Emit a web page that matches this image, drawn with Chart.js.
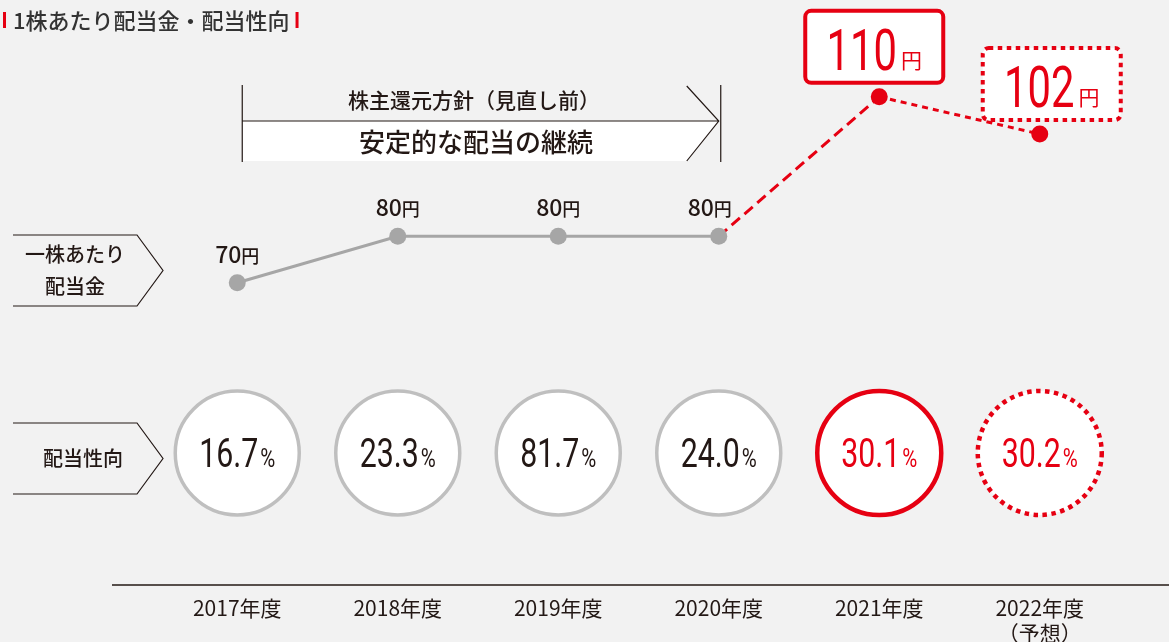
<!DOCTYPE html>
<html lang="ja">
<head>
<meta charset="utf-8">
<script src="https://cdn.jsdelivr.net/npm/chart.js@4.4.1/dist/chart.umd.min.js"></script>
<style>
    html, body { margin: 0; padding: 0; background: #f2f2f2; }
    #wrap { position: relative; width: 1169px; height: 642px; }
</style>
</head>
<body>
<div id="wrap"><canvas id="dividend-chart"></canvas></div>
<script>
// --- DATA ---
const years = ['2017年度', '2018年度', '2019年度', '2020年度', '2021年度', ['2022年度', '（予想）']];
const dividends = [70, 80, 80, 80, 110, 102];       // 一株あたり配当金（円）
const payoutRatios = [16.7, 23.3, 81.7, 24.0, 30.1, 30.2]; // 配当性向（%）
const resultFrom = 4;   // 2021年度以降は赤で強調
const forecastIdx = 5;  // 2022年度は予想

const RED = '#e60012';
const GRAY = '#a6a6a6';
const RING = '#bfbfbf';
const INK = '#231815';
const JP = '"Noto Sans CJK JP", "Noto Sans", sans-serif';
const NUM = 'Roboto, "Noto Sans", sans-serif';

const CIRCLE_Y = 453;
const CIRCLE_R = 62;

// 数字＋単位を中央揃えで描く（sx / usx は横方向の縮み）
function drawValue(ctx, num, unit, cx, baseline, numFont, unitFont, color, sx = 1, gap = 2, unitLift = 0, usx = 1) {
    ctx.save();
    ctx.fillStyle = color;
    ctx.textAlign = 'left';
    ctx.textBaseline = 'alphabetic';
    ctx.font = numFont;
    const wn = ctx.measureText(num).width * sx;
    ctx.font = unitFont;
    const wu = ctx.measureText(unit).width * usx;
    const x = cx - (wn + gap + wu) / 2;
    ctx.font = numFont;
    ctx.save();
    ctx.translate(x, baseline);
    ctx.scale(sx, 1);
    ctx.fillText(num, 0, 0);
    ctx.restore();
    ctx.font = unitFont;
    ctx.save();
    ctx.translate(x + wn + gap, baseline - unitLift);
    ctx.scale(usx, 1);
    ctx.fillText(unit, 0, 0);
    ctx.restore();
    ctx.restore();
}

function roundRect(ctx, x, y, w, h, r) {
    ctx.beginPath();
    ctx.moveTo(x + r, y);
    ctx.arcTo(x + w, y, x + w, y + h, r);
    ctx.arcTo(x + w, y + h, x, y + h, r);
    ctx.arcTo(x, y + h, x, y, r);
    ctx.arcTo(x, y, x + w, y, r);
    ctx.closePath();
}

// --- 背景の装飾（タイトル・方針矢印・左の見出し・軸線・配当性向の円） ---
const decorPlugin = {
    id: 'decor',
    beforeDatasetsDraw(chart) {
        const { ctx, chartArea, scales: { x } } = chart;
        ctx.save();

        // タイトル
        ctx.font = `500 22px ${JP}`;
        ctx.fillStyle = '#333';
        ctx.textBaseline = 'middle';
        ctx.textAlign = 'left';
        const title = '1株あたり配当金・配当性向';
        ctx.fillText(title, 13, 21);
        const tw = ctx.measureText(title).width;
        ctx.fillStyle = RED;
        ctx.fillRect(3, 12, 3, 16);
        ctx.fillRect(13 + tw + 6, 12, 3, 16);

        // 株主還元方針の矢印
        const bx0 = x.getPixelForValue(0) + 5;
        const bx1 = x.getPixelForValue(3) + 2;
        ctx.fillStyle = '#ffffff';
        ctx.beginPath();
        ctx.moveTo(bx0, 121);
        ctx.lineTo(bx1 - 2, 121);
        ctx.lineTo(bx1 - 34, 161);
        ctx.lineTo(bx0, 161);
        ctx.closePath();
        ctx.fill();
        ctx.strokeStyle = INK;
        ctx.lineWidth = 1.2;
        ctx.beginPath();
        ctx.moveTo(bx0, 85); ctx.lineTo(bx0, 162);
        ctx.moveTo(bx1, 85); ctx.lineTo(bx1, 162);
        ctx.moveTo(bx0, 121); ctx.lineTo(bx1 - 2, 121);
        ctx.moveTo(bx1 - 34, 86); ctx.lineTo(bx1 - 2, 121); ctx.lineTo(bx1 - 34, 161);
        ctx.stroke();
        ctx.fillStyle = INK;
        ctx.textAlign = 'center';
        ctx.font = `500 21px ${JP}`;
        ctx.fillText('株主還元方針（見直し前）', 474, 100);
        ctx.font = `500 26px ${JP}`;
        ctx.fillText('安定的な配当の継続', 476, 142);

        // 左の見出し（矢羽根）
        const tag = (top, bottom, lines, cx) => {
            const mid = (top + bottom) / 2;
            ctx.strokeStyle = INK;
            ctx.lineWidth = 1.2;
            ctx.beginPath();
            ctx.moveTo(13, top); ctx.lineTo(137, top);
            ctx.lineTo(163, mid); ctx.lineTo(137, bottom); ctx.lineTo(13, bottom);
            ctx.stroke();
            ctx.fillStyle = INK;
            ctx.font = `500 20px ${JP}`;
            ctx.textAlign = 'center';
            ctx.textBaseline = 'middle';
            const lh = 32;
            lines.forEach((t, i) => ctx.fillText(t, cx, mid + (i - (lines.length - 1) / 2) * lh));
        };
        tag(235, 306, ['一株あたり', '配当金'], 75);
        tag(423, 494, ['配当性向'], 83);

        // x軸の線
        ctx.strokeStyle = INK;
        ctx.lineWidth = 1.5;
        ctx.beginPath();
        ctx.moveTo(112, chartArea.bottom);
        ctx.lineTo(1169, chartArea.bottom);
        ctx.stroke();

        // 配当性向の円
        payoutRatios.forEach((v, i) => {
            const cx = x.getPixelForValue(i);
            const hot = i >= resultFrom;
            ctx.beginPath();
            ctx.arc(cx, CIRCLE_Y, CIRCLE_R, 0, Math.PI * 2);
            ctx.fillStyle = '#ffffff';
            ctx.fill();
            ctx.lineWidth = hot ? 4.5 : 3.5;
            ctx.strokeStyle = hot ? RED : RING;
            ctx.setLineDash(i === forecastIdx ? [4.5, 4.5] : []);
            ctx.stroke();
            ctx.setLineDash([]);
            drawValue(ctx, v.toFixed(1), '%', cx, CIRCLE_Y + 14,
                `41px ${NUM}`, `25px ${NUM}`, hot ? RED : INK, 0.74, 2, 0, 0.82);
        });
        ctx.restore();
    },
    afterDatasetsDraw(chart) {
        const { ctx, scales: { x, y } } = chart;
        const labelDx = [0, 0, 0, -9, -5, 12];
        dividends.forEach((v, i) => {
            const px = x.getPixelForValue(i);
            const py = y.getPixelForValue(v);
            if (i < resultFrom) {
                drawValue(ctx, String(v), '円', px + labelDx[i], py - 20,
                    `500 23px ${JP}`, `500 18px ${JP}`, INK, 1, 0);
                return;
            }
            // 赤枠の大きなラベル
            const w = 138, h = 72;
            const bx = px + labelDx[i] - w / 2;
            const by = py - 86;
            ctx.save();
            roundRect(ctx, bx, by, w, h, 6);
            ctx.fillStyle = '#ffffff';
            ctx.fill();
            ctx.lineWidth = 4;
            ctx.strokeStyle = RED;
            if (i === forecastIdx) ctx.setLineDash([4.5, 4.5]);
            ctx.stroke();
            ctx.restore();
            drawValue(ctx, String(v), '円', px + labelDx[i], by + 59,
                `58px ${NUM}`, `21px ${JP}`, RED, 0.72, 4, 2);
        });
    }
};

// --- CHART ---
new Chart(document.getElementById('dividend-chart'), {
    type: 'line',
    data: {
        labels: years,
        datasets: [{
            data: dividends,
            borderColor: GRAY,
            borderWidth: 3,
            pointRadius: 8.5,
            pointHoverRadius: 8.5,
            pointBorderWidth: 0,
            pointBackgroundColor: dividends.map((_, i) => i >= resultFrom ? RED : GRAY),
            tension: 0,
            segment: {
                borderColor: c => c.p1DataIndex >= resultFrom ? RED : GRAY,
                borderDash: c => c.p1DataIndex === forecastIdx ? [6, 5]
                    : (c.p1DataIndex >= resultFrom ? [11, 6] : undefined),
            },
        }]
    },
    options: {
        responsive: true,
        maintainAspectRatio: false,
        animation: false,
        events: [],
        layout: { padding: { left: 157, right: 49, top: 4, bottom: 0 } },
        plugins: { legend: { display: false }, tooltip: { enabled: false } },
        scales: {
            x: {
                offset: true,
                grid: { display: false, drawTicks: false },
                border: { display: false },
                ticks: { color: INK, padding: 10, font: { family: JP, size: 21 }, maxRotation: 0, autoSkip: false },
                afterFit: s => { s.height = 57; },
            },
            y: { display: false, min: 5, max: 129 },
        }
    },
    plugins: [decorPlugin]
});
</script>
</body>
</html>
